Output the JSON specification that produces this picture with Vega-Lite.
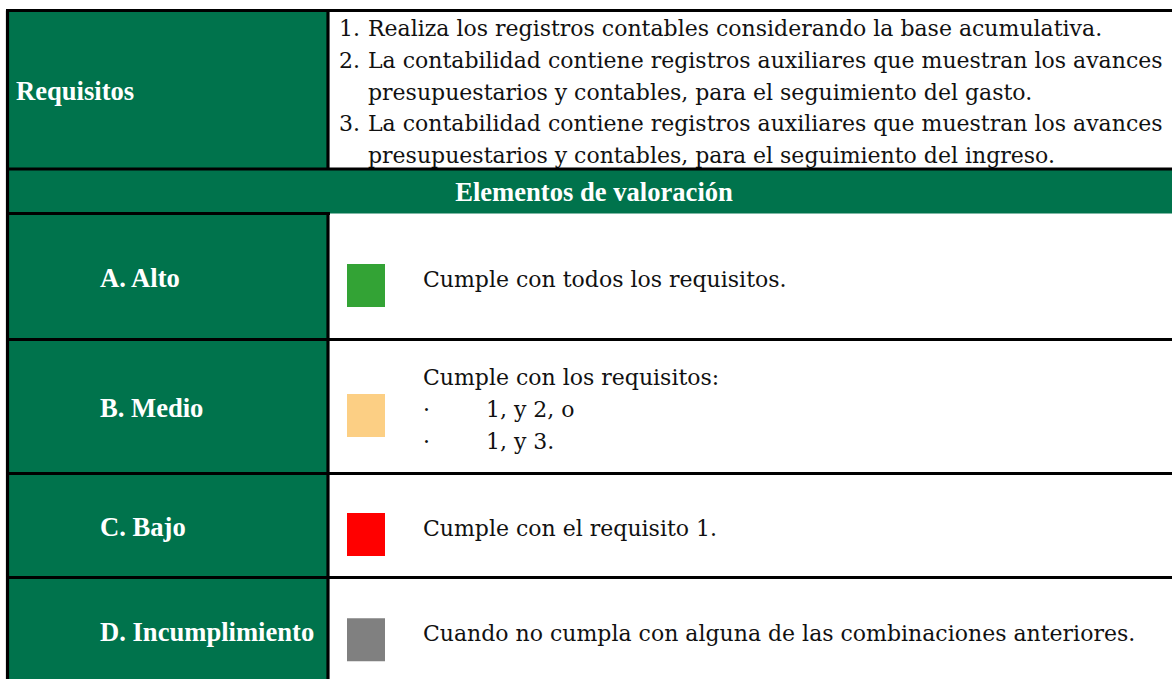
{
  "$schema": "https://vega.github.io/schema/vega-lite/v6.json",
  "width": 1172,
  "height": 679,
  "padding": 0,
  "autosize": {"type": "none"},
  "background": "white",
  "config": {"view": {"stroke": null}},
  "resolve": {"scale": {"y": "independent"}},
  "datasets": {
    "filas": [
      {"fila": "Requisitos", "tipo": "requisitos", "top": 10.5, "bottom": 169},
      {"fila": "Elementos de valoración", "tipo": "encabezado", "top": 169, "bottom": 213.5},
      {"fila": "A. Alto", "tipo": "nivel", "nivel": "Alto", "top": 213.5, "bottom": 339.5,
       "texto": ["Cumple con todos los requisitos."]},
      {"fila": "B. Medio", "tipo": "nivel", "nivel": "Medio", "top": 339.5, "bottom": 473.5,
       "texto": ["Cumple con los requisitos:", "·\u00a0\u00a0\u00a0\u00a0\u00a0\u00a0\u00a0\u00a01, y 2, o", "·\u00a0\u00a0\u00a0\u00a0\u00a0\u00a0\u00a0\u00a01, y 3."]},
      {"fila": "C. Bajo", "tipo": "nivel", "nivel": "Bajo", "top": 473.5, "bottom": 577.5,
       "texto": ["Cumple con el requisito 1."]},
      {"fila": "D. Incumplimiento", "tipo": "nivel", "nivel": "Incumplimiento", "top": 577.5, "bottom": 684,
       "texto": ["Cuando no cumpla con alguna de las combinaciones anteriores."]}
    ],
    "requisitos": [
      {"num": "1.", "linea": 0, "texto": ["Realiza los registros contables considerando la base acumulativa."]},
      {"num": "2.", "linea": 1, "texto": ["La contabilidad contiene registros auxiliares que muestran los avances", "presupuestarios y contables, para el seguimiento del gasto."]},
      {"num": "3.", "linea": 3, "texto": ["La contabilidad contiene registros auxiliares que muestran los avances", "presupuestarios y contables, para el seguimiento del ingreso."]}
    ]
  },
  "data": {"name": "filas"},
  "transform": [
    {"calculate": "(datum.top + datum.bottom) / 2", "as": "mid"},
    {"calculate": "isArray(datum.texto) ? datum.mid - max(length(datum.texto) - 1, 0) * 15.9 : datum.mid", "as": "ytexto"}
  ],
  "layer": [
    {
      "transform": [{"filter": "datum.tipo != 'encabezado'"}],
      "mark": {"type": "rect", "fill": "#00734C"},
      "encoding": {
        "x": {"datum": 6, "type": "quantitative", "scale": {"domain": [0, 1172], "nice": false, "zero": false}, "axis": null},
        "x2": {"datum": 328},
        "y": {"field": "top", "type": "quantitative", "scale": {"domain": [0, 679], "nice": false, "zero": false, "reverse": true}, "axis": null},
        "y2": {"field": "bottom"}
      }
    },
    {
      "transform": [{"filter": "datum.tipo == 'encabezado'"}],
      "mark": {"type": "rect", "fill": "#00734C"},
      "encoding": {
        "x": {"datum": 6, "type": "quantitative", "scale": {"domain": [0, 1172], "nice": false, "zero": false}, "axis": null},
        "x2": {"datum": 1190},
        "y": {"field": "top", "type": "quantitative", "scale": {"domain": [0, 679], "nice": false, "zero": false, "reverse": true}, "axis": null},
        "y2": {"field": "bottom"}
      }
    },
    {
      "transform": [{"filter": "datum.tipo == 'nivel'"}],
      "mark": {"type": "rect", "yOffset": -12.5, "y2Offset": 30.5},
      "encoding": {
        "x": {"datum": 347, "type": "quantitative", "scale": {"domain": [0, 1172], "nice": false, "zero": false}, "axis": null},
        "x2": {"datum": 385},
        "y": {"field": "mid", "type": "quantitative", "scale": {"domain": [0, 679], "nice": false, "zero": false, "reverse": true}, "axis": null},
        "y2": {"field": "mid"},
        "fill": {"field": "nivel", "type": "nominal", "legend": null,
                 "scale": {"domain": ["Alto", "Medio", "Bajo", "Incumplimiento"], "range": ["#33A335", "#FCCF84", "#FF0000", "#808080"]}}
      }
    },
    {
      "transform": [{"filter": "datum.tipo == 'nivel'"}],
      "mark": {"type": "text", "font": "Liberation Serif", "fontWeight": "bold", "fontSize": 26.6, "fill": "white", "align": "left", "baseline": "middle", "dy": 2},
      "encoding": {
        "x": {"datum": 100, "type": "quantitative", "scale": {"domain": [0, 1172], "nice": false, "zero": false}, "axis": null},
        "y": {"field": "mid", "type": "quantitative", "scale": {"domain": [0, 679], "nice": false, "zero": false, "reverse": true}, "axis": null},
        "text": {"field": "fila", "type": "nominal"}
      }
    },
    {
      "transform": [{"filter": "datum.tipo == 'requisitos'"}],
      "mark": {"type": "text", "font": "Liberation Serif", "fontWeight": "bold", "fontSize": 26.6, "fill": "white", "align": "left", "baseline": "middle", "dy": 2},
      "encoding": {
        "x": {"datum": 16, "type": "quantitative", "scale": {"domain": [0, 1172], "nice": false, "zero": false}, "axis": null},
        "y": {"field": "mid", "type": "quantitative", "scale": {"domain": [0, 679], "nice": false, "zero": false, "reverse": true}, "axis": null},
        "text": {"field": "fila", "type": "nominal"}
      }
    },
    {
      "transform": [{"filter": "datum.tipo == 'encabezado'"}],
      "mark": {"type": "text", "font": "Liberation Serif", "fontWeight": "bold", "fontSize": 26.6, "fill": "white", "align": "center", "baseline": "middle", "dy": 2},
      "encoding": {
        "x": {"datum": 594, "type": "quantitative", "scale": {"domain": [0, 1172], "nice": false, "zero": false}, "axis": null},
        "y": {"field": "mid", "type": "quantitative", "scale": {"domain": [0, 679], "nice": false, "zero": false, "reverse": true}, "axis": null},
        "text": {"field": "fila", "type": "nominal"}
      }
    },
    {
      "transform": [{"filter": "datum.tipo == 'nivel'"}],
      "mark": {"type": "text", "font": "DejaVu Serif", "fontSize": 22, "fill": "#111111", "align": "left", "baseline": "middle", "dy": 3.4, "lineHeight": 31.8},
      "encoding": {
        "x": {"datum": 423, "type": "quantitative", "scale": {"domain": [0, 1172], "nice": false, "zero": false}, "axis": null},
        "y": {"field": "ytexto", "type": "quantitative", "scale": {"domain": [0, 679], "nice": false, "zero": false, "reverse": true}, "axis": null},
        "text": {"field": "texto", "type": "nominal"}
      }
    },
    {
      "data": {"name": "requisitos"},
      "mark": {"type": "text", "font": "DejaVu Serif", "fontSize": 22, "fill": "#111111", "align": "left", "baseline": "alphabetic", "lineHeight": 31.8},
      "encoding": {
        "x": {"datum": 368, "type": "quantitative", "scale": {"domain": [0, 1172], "nice": false, "zero": false}, "axis": null},
        "y": {"field": "linea", "type": "quantitative", "scale": {"domain": [0, 4], "range": [36, 163.2], "nice": false, "zero": false}, "axis": null},
        "text": {"field": "texto", "type": "nominal"}
      }
    },
    {
      "data": {"name": "requisitos"},
      "mark": {"type": "text", "font": "DejaVu Serif", "fontSize": 22, "fill": "#111111", "align": "left", "baseline": "alphabetic"},
      "encoding": {
        "x": {"datum": 339, "type": "quantitative", "scale": {"domain": [0, 1172], "nice": false, "zero": false}, "axis": null},
        "y": {"field": "linea", "type": "quantitative", "scale": {"domain": [0, 4], "range": [36, 163.2], "nice": false, "zero": false}, "axis": null},
        "text": {"field": "num", "type": "nominal"}
      }
    },
    {
      "transform": [{"filter": "datum.fila != 'A. Alto'"}],
      "mark": {"type": "rule", "stroke": "black", "strokeWidth": 3.2},
      "encoding": {
        "x": {"datum": 6, "type": "quantitative", "scale": {"domain": [0, 1172], "nice": false, "zero": false}, "axis": null},
        "x2": {"datum": 1190},
        "y": {"field": "top", "type": "quantitative", "scale": {"domain": [0, 679], "nice": false, "zero": false, "reverse": true}, "axis": null}
      }
    },
    {
      "transform": [{"filter": "datum.fila == 'A. Alto'"}],
      "mark": {"type": "rule", "stroke": "black", "strokeWidth": 3.2},
      "encoding": {
        "x": {"datum": 6, "type": "quantitative", "scale": {"domain": [0, 1172], "nice": false, "zero": false}, "axis": null},
        "x2": {"datum": 330},
        "y": {"field": "top", "type": "quantitative", "scale": {"domain": [0, 679], "nice": false, "zero": false, "reverse": true}, "axis": null}
      }
    },
    {
      "transform": [{"filter": "datum.tipo != 'encabezado'"}],
      "mark": {"type": "rule", "stroke": "black", "strokeWidth": 3.2},
      "encoding": {
        "x": {"datum": 328, "type": "quantitative", "scale": {"domain": [0, 1172], "nice": false, "zero": false}, "axis": null},
        "y": {"field": "top", "type": "quantitative", "scale": {"domain": [0, 679], "nice": false, "zero": false, "reverse": true}, "axis": null},
        "y2": {"field": "bottom"}
      }
    },
    {
      "mark": {"type": "rule", "stroke": "black", "strokeWidth": 3.2},
      "encoding": {
        "x": {"datum": 7.5, "type": "quantitative", "scale": {"domain": [0, 1172], "nice": false, "zero": false}, "axis": null},
        "y": {"field": "top", "type": "quantitative", "scale": {"domain": [0, 679], "nice": false, "zero": false, "reverse": true}, "axis": null},
        "y2": {"field": "bottom"}
      }
    }
  ]
}
